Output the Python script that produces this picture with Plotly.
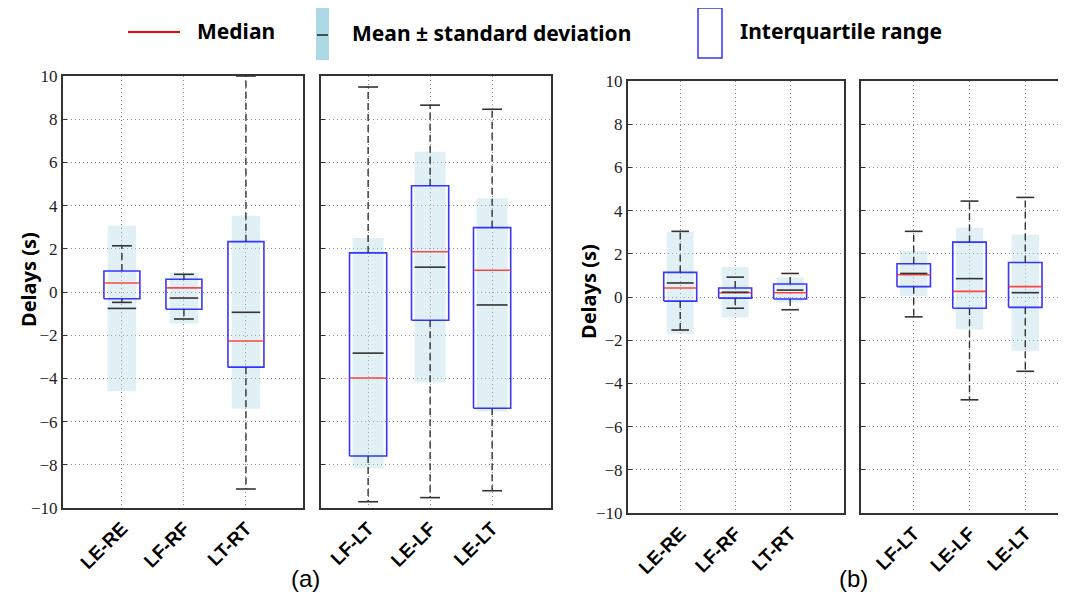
import plotly.graph_objects as go

# page body has an 8px margin; compensate so the picture lines up with the window
OFF = 8
W, H = 1066 - OFF, 601 - 2 * OFF

# ---------------- data ----------------
labels_a1 = ["LE-RE", "LF-RF", "LT-RT"]
whislo_a1 = [-0.48, -1.25, -9.12]
q1_a1 = [-0.31, -0.80, -3.48]
med_a1 = [0.42, 0.19, -2.27]
q3_a1 = [0.97, 0.59, 2.33]
whishi_a1 = [2.14, 0.82, 10.0]
mean_a1 = [-0.76, -0.28, -0.94]
std_a1 = [3.83, 1.18, 4.47]

labels_a2 = ["LF-LT", "LE-LF", "LE-LT"]
whislo_a2 = [-9.71, -9.52, -9.20]
q1_a2 = [-7.59, -1.31, -5.38]
med_a2 = [-3.98, 1.86, 1.01]
q3_a2 = [1.81, 4.92, 2.98]
whishi_a2 = [9.49, 8.65, 8.46]
mean_a2 = [-2.83, 1.15, -0.60]
std_a2 = [5.33, 5.34, 4.94]

labels_b1 = ["LE-RE", "LF-RF", "LT-RT"]
whislo_b1 = [-1.53, -0.52, -0.59]
q1_b1 = [-0.19, -0.05, -0.09]
med_b1 = [0.42, 0.20, 0.20]
q3_b1 = [1.14, 0.42, 0.60]
whishi_b1 = [3.04, 0.92, 1.09]
mean_b1 = [0.65, 0.22, 0.32]
std_b1 = [2.36, 1.17, 0.575]

labels_b2 = ["LF-LT", "LE-LF", "LE-LT"]
whislo_b2 = [-0.92, -4.76, -3.44]
q1_b2 = [0.48, -0.52, -0.48]
med_b2 = [1.03, 0.26, 0.48]
q3_b2 = [1.54, 2.54, 1.60]
whishi_b2 = [3.04, 4.44, 4.61]
mean_b2 = [1.09, 0.85, 0.20]
std_b2 = [1.045, 2.355, 2.69]

y_ticks = [-10, -8, -6, -4, -2, 0, 2, 4, 6, 8, 10]

groups = [
    (labels_a1, whislo_a1, q1_a1, med_a1, q3_a1, whishi_a1, mean_a1, std_a1),
    (labels_a2, whislo_a2, q1_a2, med_a2, q3_a2, whishi_a2, mean_a2, std_a2),
    (labels_b1, whislo_b1, q1_b1, med_b1, q3_b1, whishi_b1, mean_b1, std_b1),
    (labels_b2, whislo_b2, q1_b2, med_b2, q3_b2, whishi_b2, mean_b2, std_b2),
]


def fx(px):
    return (px - OFF) / W


def fy(py):
    return 1 - (py - OFF) / H


# ---------------- layout geometry (window pixels) ----------------
px_x = [(63, 303), (321, 551), (628, 844), (861, 1070)]
px_y = [(76, 508), (76, 508), (81, 513), (81, 513)]
x_ranges = [[-0.95, 2.92], [-0.76, 2.95], [-0.95, 2.98], [-0.945, 2.73]]
box_half = [0.29, 0.30, 0.30, 0.30]
band_w = [0.46, 0.50, 0.49, 0.49]
cap_half = 0.16

BAND = "rgba(173,216,230,0.38)"
BLUE = "rgba(20,20,255,0.85)"
RED = "rgba(255,40,40,0.85)"
DARK = "#333333"
GRID = "#8c8c8c"

fig = go.Figure()
layout_axes = {}

for k, g in enumerate(groups):
    labels, lo, q1, med, q3, hi, mean, std = g
    xa = "x" if k == 0 else f"x{k + 1}"
    ya = "y" if k == 0 else f"y{k + 1}"
    pos = list(range(len(labels)))
    bh = box_half[k]
    bw = band_w[k]

    # mean ± std band
    fig.add_trace(go.Bar(
        x=pos, y=[2 * s for s in std], base=[m - s for m, s in zip(mean, std)],
        width=bw, marker=dict(color=BAND, line=dict(width=0)),
        xaxis=xa, yaxis=ya, showlegend=False, hoverinfo="skip"))

    # dashed whiskers
    wx, wy = [], []
    for i in pos:
        wx += [i, i, None, i, i, None]
        wy += [q3[i], hi[i], None, q1[i], lo[i], None]
    fig.add_trace(go.Scatter(x=wx, y=wy, mode="lines",
                             line=dict(color=DARK, width=1.4, dash="7px,4px"),
                             xaxis=xa, yaxis=ya, showlegend=False, hoverinfo="skip"))
    # caps
    cx, cy = [], []
    for i in pos:
        cx += [i - cap_half, i + cap_half, None, i - cap_half, i + cap_half, None]
        cy += [hi[i], hi[i], None, lo[i], lo[i], None]
    fig.add_trace(go.Scatter(x=cx, y=cy, mode="lines",
                             line=dict(color=DARK, width=1.6),
                             xaxis=xa, yaxis=ya, showlegend=False, hoverinfo="skip"))
    # IQR boxes
    bx, by = [], []
    for i in pos:
        bx += [i - bh, i + bh, i + bh, i - bh, i - bh, None]
        by += [q1[i], q1[i], q3[i], q3[i], q1[i], None]
    fig.add_trace(go.Scatter(x=bx, y=by, mode="lines",
                             line=dict(color=BLUE, width=1.6),
                             xaxis=xa, yaxis=ya, showlegend=False, hoverinfo="skip"))
    # medians
    mx, my = [], []
    for i in pos:
        mx += [i - bh, i + bh, None]
        my += [med[i], med[i], None]
    fig.add_trace(go.Scatter(x=mx, y=my, mode="lines",
                             line=dict(color=RED, width=1.6),
                             xaxis=xa, yaxis=ya, showlegend=False, hoverinfo="skip"))
    # means
    ex, ey = [], []
    for i in pos:
        ex += [i - bw / 2, i + bw / 2, None]
        ey += [mean[i], mean[i], None]
    fig.add_trace(go.Scatter(x=ex, y=ey, mode="lines",
                             line=dict(color=DARK, width=1.6),
                             xaxis=xa, yaxis=ya, showlegend=False, hoverinfo="skip"))

    x0, x1 = px_x[k]
    yt, yb = px_y[k]
    xkey = "xaxis" if k == 0 else f"xaxis{k + 1}"
    ykey = "yaxis" if k == 0 else f"yaxis{k + 1}"
    layout_axes[xkey] = dict(
        domain=[fx(x0), min(fx(x1), 1.0)], range=x_ranges[k], anchor=ya,
        tickmode="array", tickvals=pos, ticktext=labels, tickangle=-45,
        tickfont=dict(family="Liberation Sans", size=19, color="black", weight="bold"),
        showgrid=True, griddash="1px,3px", gridcolor=GRID, gridwidth=1,
        showline=True, mirror=True, linecolor=DARK, linewidth=2,
        ticks="", zeroline=False, fixedrange=True, automargin=False)
    layout_axes[ykey] = dict(
        domain=[fy(yb), fy(yt)], range=[-10, 10], anchor=xa,
        tickmode="array", tickvals=y_ticks,
        showticklabels=(k in (0, 2)),
        tickfont=dict(family="Liberation Serif", size=17, color="#222"),
        ticks="inside", ticklen=4, tickcolor=DARK,
        showgrid=True, griddash="1px,3px", gridcolor=GRID, gridwidth=1,
        showline=True, mirror=True, linecolor=DARK, linewidth=2,
        zeroline=False, fixedrange=True, automargin=False)

# ---------------- legend (drawn) ----------------
shapes = [
    dict(type="line", xref="paper", yref="paper", x0=fx(128), x1=fx(180),
         y0=fy(32), y1=fy(32), line=dict(color="red", width=2)),
    dict(type="rect", xref="paper", yref="paper", x0=fx(316), x1=fx(329),
         y0=fy(60), y1=fy(8), fillcolor="#add8e6", line=dict(width=0)),
    dict(type="line", xref="paper", yref="paper", x0=fx(317), x1=fx(328),
         y0=fy(35), y1=fy(35), line=dict(color="#222", width=1.5)),
    dict(type="rect", xref="paper", yref="paper", x0=fx(698), x1=fx(722),
         y0=fy(58), y1=fy(8), line=dict(color="#3333ff", width=1.5)),
]
leg_font = dict(family="Noto Sans", size=21, color="black", weight="bold")
title_font = dict(family="Noto Sans", size=20, color="black", weight="bold")
annotations = [
    dict(text="Median", x=fx(195), y=fy(31), xanchor="left", yanchor="middle",
         xref="paper", yref="paper", showarrow=False, font=leg_font),
    dict(text="Mean ± standard deviation", x=fx(350), y=fy(33), xanchor="left",
         yanchor="middle", xref="paper", yref="paper", showarrow=False, font=leg_font),
    dict(text="Interquartile range", x=fx(738), y=fy(31), xanchor="left",
         yanchor="middle", xref="paper", yref="paper", showarrow=False, font=leg_font),
    dict(text="Delays (s)", x=fx(28), y=fy(280), textangle=-90, xanchor="center",
         yanchor="middle", xref="paper", yref="paper", showarrow=False, font=title_font),
    dict(text="Delays (s)", x=fx(588), y=fy(292), textangle=-90, xanchor="center",
         yanchor="middle", xref="paper", yref="paper", showarrow=False, font=title_font),
    dict(text="(a)", x=fx(305), y=fy(578), xanchor="center", yanchor="middle",
         xref="paper", yref="paper", showarrow=False,
         font=dict(family="Liberation Sans", size=24, color="black")),
    dict(text="(b)", x=fx(853), y=fy(578), xanchor="center", yanchor="middle",
         xref="paper", yref="paper", showarrow=False,
         font=dict(family="Liberation Sans", size=24, color="black")),
]

fig.update_layout(
    width=W, height=H, margin=dict(l=0, r=0, t=0, b=0),
    paper_bgcolor="white", plot_bgcolor="white",
    barmode="overlay", showlegend=False,
    shapes=shapes, annotations=annotations, **layout_axes)

fig.write_html("out.html")
